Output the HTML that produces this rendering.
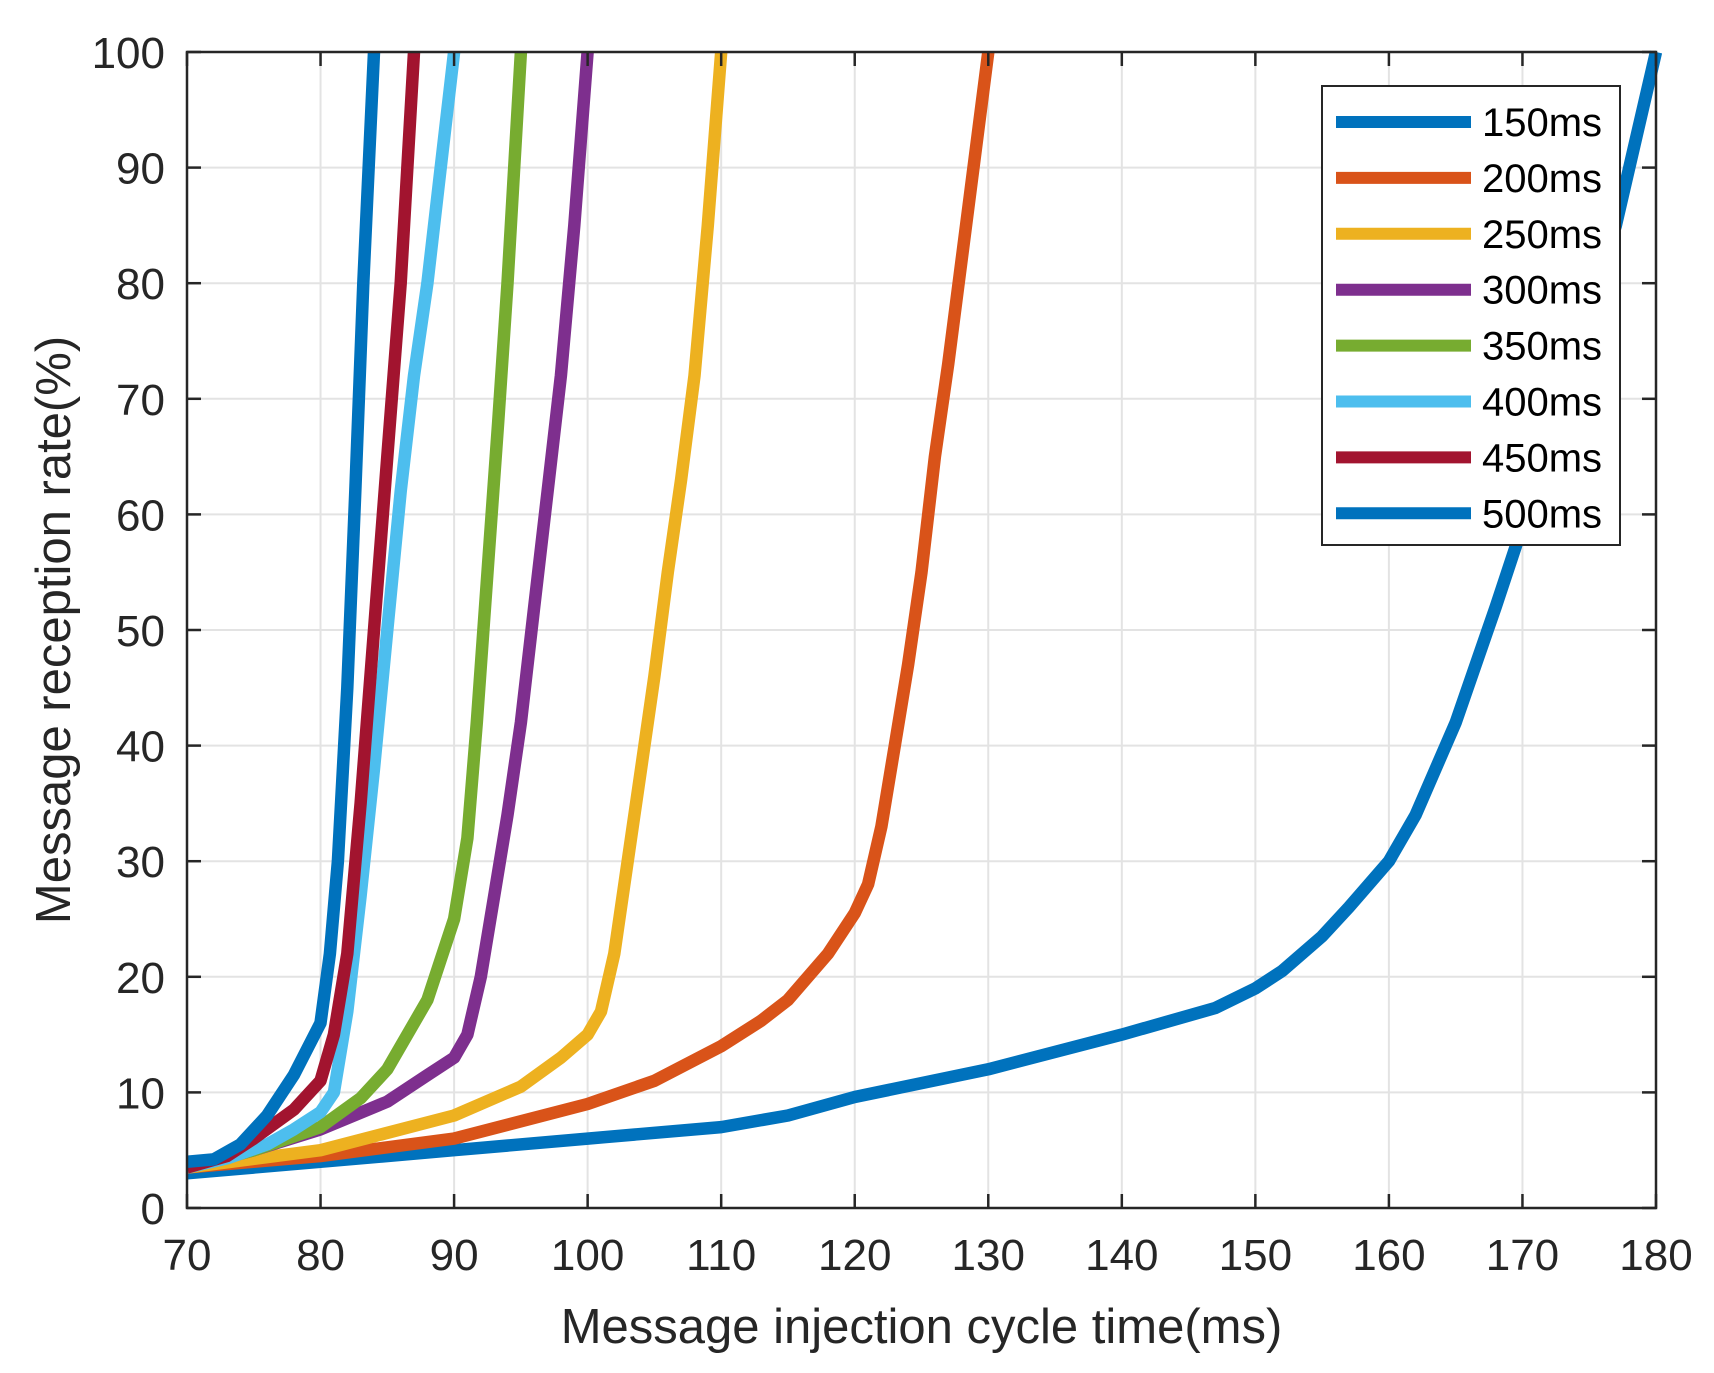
<!DOCTYPE html>
<html><head><meta charset="utf-8"><style>
html,body{margin:0;padding:0;background:#fff;}
svg{display:block;font-family:"Liberation Sans",Arial,sans-serif;}
</style></head><body>
<svg id="s" width="1714" height="1373" viewBox="0 0 1714 1373" xmlns="http://www.w3.org/2000/svg"></svg>
<script>
const L=187,R=1656,T=52,B=1208;
const X=v=>L+(v-70)/110*(R-L), Y=v=>B-v/100*(B-T);
let h='<rect width="1714" height="1373" fill="#fff"/>';
for(let v=80;v<180;v+=10)h+=`<line x1="${X(v)}" y1="${T}" x2="${X(v)}" y2="${B}" stroke="#e3e3e3" stroke-width="2"/>`;
for(let v=10;v<100;v+=10)h+=`<line x1="${L}" y1="${Y(v)}" x2="${R}" y2="${Y(v)}" stroke="#e3e3e3" stroke-width="2"/>`;
const data=[
["#0072BD",[[70,3],[80,4],[90,5],[100,6],[110,7],[115,8],[120,9.6],[130,12],[140,15],[147,17.3],[150,19],[152,20.5],[155,23.5],[157,26],[160,30],[162,34],[165,42],[168,52],[170,59],[173,70],[177,85],[180,100]]],
["#D95319",[[70,3.5],[80,4.5],[90,6],[100,9],[105,11],[110,14],[113,16.2],[115,18],[118,22],[120,25.5],[121,28],[122,33],[123,40],[124,47],[125,55],[126,65],[127,73],[128,82],[130,100]]],
["#EDB120",[[70,3.5],[80,5],[90,8],[95,10.5],[98,13],[100,15],[101,17],[102,22],[103,30],[104,38],[105,46],[106,55],[107,63],[108,72],[109,85],[110,100]]],
["#7E2F8E",[[70,3.5],[75,5],[80,6.8],[85,9.2],[88,11.5],[90,13],[91,15],[92,20],[93,27],[94,34],[95,42],[96,52],[97,62],[98,72],[99,85],[100,100]]],
["#77AC30",[[70,3.5],[75,5],[80,7],[83,9.5],[85,12],[88,18],[90,25],[91,32],[91.7,42],[92.5,55],[93.3,68],[94,80],[95,100]]],
["#4DBEEE",[[70,3.5],[73,4.3],[76,5.5],[78,6.8],[80,8.3],[81,10],[82,17],[83,27],[84,38],[85,50],[86,62],[87,72],[88,80],[89,90],[90,100]]],
["#A2142F",[[70,3.5],[73,4.5],[75,6],[78,8.5],[80,11],[81,15],[82,22],[83,35],[84,50],[85,65],[86,80],[87,100]]],
["#0072BD",[[70,4],[72,4.2],[74,5.5],[76,8],[78,11.5],[80,16],[80.7,22],[81.3,30],[82,45],[82.6,62],[83.2,80],[84,100]]]
];
h+=`<clipPath id="c"><rect x="${L}" y="${T-6}" width="${R-L+6}" height="${B-T+6}"/></clipPath><g clip-path="url(#c)">`;
data.forEach(([c,p])=>{h+=`<polyline fill="none" stroke="${c}" stroke-width="12.5" stroke-linejoin="round" points="${p.map(q=>X(q[0]).toFixed(1)+','+Y(q[1]).toFixed(1)).join(' ')}"/>`;});
h+='</g>';
h+=`<rect x="${L}" y="${T}" width="${R-L}" height="${B-T}" fill="none" stroke="#262626" stroke-width="2.5"/>`;
for(let v=70;v<=180;v+=10){const x=X(v);h+=`<line x1="${x}" y1="${B}" x2="${x}" y2="${B-14}" stroke="#262626" stroke-width="2.5"/><line x1="${x}" y1="${T}" x2="${x}" y2="${T+14}" stroke="#262626" stroke-width="2.5"/><text x="${x}" y="${B+62}" font-size="44" text-anchor="middle" fill="#262626">${v}</text>`;}
for(let v=0;v<=100;v+=10){const y=Y(v);h+=`<line x1="${L}" y1="${y}" x2="${L+14}" y2="${y}" stroke="#262626" stroke-width="2.5"/><line x1="${R}" y1="${y}" x2="${R-14}" y2="${y}" stroke="#262626" stroke-width="2.5"/><text x="${L-22}" y="${y+16}" font-size="44" text-anchor="end" fill="#262626">${v}</text>`;}
h+=`<text x="${(L+R)/2}" y="1343" font-size="49" text-anchor="middle" fill="#262626">Message injection cycle time(ms)</text>`;
h+=`<text transform="translate(70 ${(T+B)/2}) rotate(-90)" font-size="49" text-anchor="middle" fill="#262626">Message reception rate(%)</text>`;
h+=`<rect x="1322" y="86" width="298" height="459" fill="#fff" stroke="#262626" stroke-width="2"/>`;
const names=["150ms","200ms","250ms","300ms","350ms","400ms","450ms","500ms"];
names.forEach((n,i)=>{const y=122+i*55.9;h+=`<line x1="1336" y1="${y}" x2="1471" y2="${y}" stroke="${data[i][0]}" stroke-width="12"/><text x="1482" y="${y+14}" font-size="40" fill="#000">${n}</text>`;});
document.getElementById('s').innerHTML=h;
</script>
</body></html>
